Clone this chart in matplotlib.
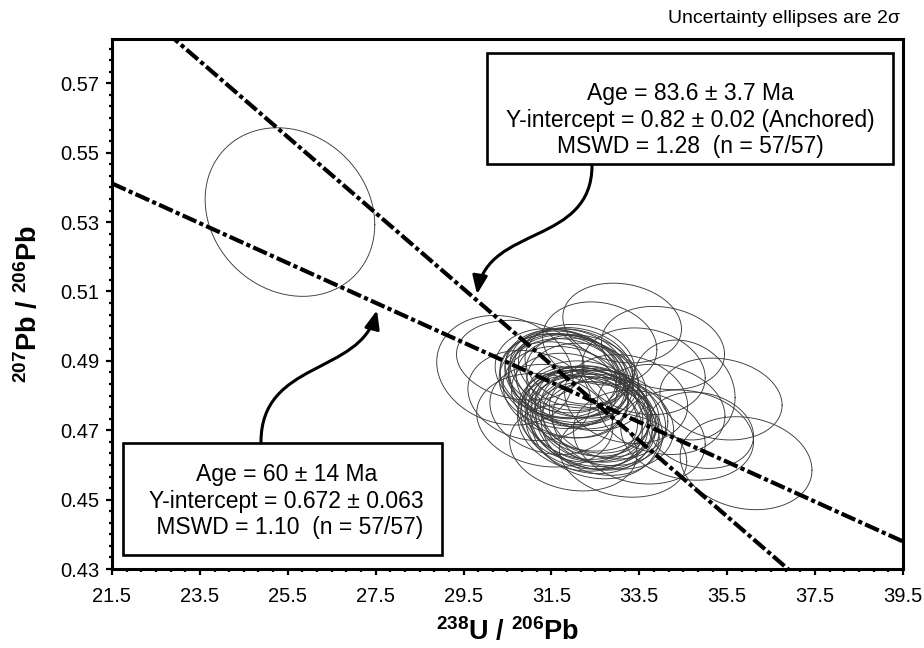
import numpy as np
import matplotlib
matplotlib.use('Agg')
from matplotlib import pyplot as plt
from matplotlib.path import Path
from matplotlib.patches import FancyArrowPatch, Rectangle
from matplotlib.ticker import AutoMinorLocator

plt.rcParams['font.family'] = ['Liberation Sans', 'DejaVu Sans']
plt.rcParams['mathtext.fontset'] = 'custom'
plt.rcParams['mathtext.rm'] = 'Liberation Sans'
plt.rcParams['mathtext.bf'] = 'Liberation Sans:bold'

# axis ticks
x_ticks = [21.5, 23.5, 25.5, 27.5, 29.5, 31.5, 33.5, 35.5, 37.5, 39.5]
y_ticks = [0.43, 0.45, 0.47, 0.49, 0.51, 0.53, 0.55, 0.57]
x_lim = (21.5, 39.5)
y_lim = (0.43, 0.5828)

# 2-sigma ellipses: centre (x, y) and half widths (sx, sy)
ell_x = [25.55,
         33.11, 34.04, 35.36, 35.93, 34.59, 34.52, 30.44, 30.79, 31.35, 33.13,
         33.60, 34.00, 33.50, 31.00, 32.60, 34.90, 32.00, 33.20, 31.50,
         31.80, 31.90, 31.75, 31.95, 31.85, 31.70, 32.00, 31.88, 32.10, 31.65,
         32.20, 31.82, 32.05, 31.60, 32.30, 31.92, 32.15, 31.78,
         32.38, 32.30, 32.45, 32.50, 32.25, 32.40, 32.55, 32.35, 32.60, 32.20,
         32.45, 32.70, 32.15, 32.65, 32.30, 32.80, 32.50, 32.10, 32.90]
ell_y = [0.5329,
         0.5009, 0.4937, 0.4790, 0.4605, 0.4686, 0.4816, 0.4873, 0.4902, 0.4729, 0.4628,
         0.4870, 0.4760, 0.4680, 0.4800, 0.4950, 0.4700, 0.4650, 0.4790, 0.4760,
         0.4860, 0.4850, 0.4870, 0.4845, 0.4840, 0.4855, 0.4865, 0.4875, 0.4835, 0.4830,
         0.4855, 0.4810, 0.4880, 0.4865, 0.4825, 0.4800, 0.4890, 0.4845,
         0.4735, 0.4745, 0.4725, 0.4740, 0.4730, 0.4755, 0.4720, 0.4715, 0.4750, 0.4750,
         0.4760, 0.4730, 0.4720, 0.4705, 0.4770, 0.4745, 0.4700, 0.4740, 0.4720]
ell_sx = [1.93,
          1.35, 1.40, 1.39, 1.50, 1.51, 1.16, 1.55, 1.45, 1.55, 1.45,
          1.40, 1.45, 1.50, 1.40, 1.30, 1.20, 1.45, 1.40, 1.40,
          1.36, 1.38, 1.30, 1.40, 1.33, 1.37, 1.35, 1.32, 1.40, 1.34,
          1.28, 1.42, 1.30, 1.38, 1.36, 1.33, 1.25, 1.45,
          1.43, 1.40, 1.42, 1.38, 1.45, 1.36, 1.40, 1.44, 1.35, 1.38,
          1.32, 1.40, 1.42, 1.38, 1.40, 1.35, 1.45, 1.36, 1.38]
ell_sy = [0.0243,
          0.0115, 0.0120, 0.0118, 0.0134, 0.0130, 0.0144, 0.0158, 0.0115, 0.0135, 0.0121,
          0.0125, 0.0130, 0.0135, 0.0130, 0.0120, 0.0110, 0.0125, 0.0128, 0.0130,
          0.0126, 0.0128, 0.0120, 0.0130, 0.0124, 0.0122, 0.0127, 0.0118, 0.0131, 0.0125,
          0.0120, 0.0132, 0.0116, 0.0128, 0.0126, 0.0122, 0.0115, 0.0134,
          0.0140, 0.0136, 0.0138, 0.0132, 0.0142, 0.0130, 0.0135, 0.0140, 0.0128, 0.0134,
          0.0126, 0.0132, 0.0138, 0.0135, 0.0130, 0.0128, 0.0140, 0.0132, 0.0132]
ell_rho = -0.15

# regression lines (y-intercept, slope)
anchored_line = (0.8335, -0.01094)
free_line = (0.6644, -0.005733)

box_anchored = ['Age = 83.6 \u00b1 3.7 Ma',
                'Y-intercept = 0.82 \u00b1 0.02 (Anchored)',
                'MSWD = 1.28  (n = 57/57)']
box_free = ['Age = 60 \u00b1 14 Ma',
            'Y-intercept = 0.672 \u00b1 0.063',
            ' MSWD = 1.10  (n = 57/57)']


def ellipse_xy(cx, cy, sx, sy, rho):
    t = np.linspace(0, 2 * np.pi, 240)
    return cx + sx * np.cos(t), cy + sy * (rho * np.cos(t) + np.sqrt(1 - rho ** 2) * np.sin(t))


def curved_arrow(ax, p0, p1, p2, p3):
    path = Path([p0, p1, p2, p3], [Path.MOVETO, Path.CURVE4, Path.CURVE4, Path.CURVE4])
    arr = FancyArrowPatch(path=path, arrowstyle='-|>,head_length=1.1,head_width=0.45',
                          mutation_scale=10, lw=2.2, color='black',
                          shrinkA=0, shrinkB=0, zorder=6)
    ax.add_patch(arr)


fig = plt.figure(figsize=(9.24, 6.48), dpi=100)
ax = fig.add_axes([0.1212, 0.1219, 0.856, 0.818])

for cx, cy, sx, sy in zip(ell_x, ell_y, ell_sx, ell_sy):
    ex, ey = ellipse_xy(cx, cy, sx, sy, ell_rho)
    ax.plot(ex, ey, color='#3a3a3a', lw=0.65, zorder=2)

xs = np.array(x_lim)
for b0, m in (anchored_line, free_line):
    ax.plot(xs, b0 + m * xs, color='black', lw=3.0, dashes=(3.6, 0.8, 1.0, 0.8),
            solid_capstyle='butt', zorder=4)

ax.set_xlim(*x_lim)
ax.set_ylim(*y_lim)
ax.set_xticks(x_ticks)
ax.set_xticklabels([f'{v:.1f}' for v in x_ticks])
ax.set_yticks(y_ticks)
ax.set_yticklabels([f'{v:.2f}' for v in y_ticks])
ax.xaxis.set_minor_locator(AutoMinorLocator(6))
ax.yaxis.set_minor_locator(AutoMinorLocator(6))
ax.tick_params(which='major', direction='out', length=4, width=1.6, labelsize=14.5, pad=5)
ax.tick_params(axis='x', which='major', pad=9)
ax.tick_params(which='minor', direction='out', length=2.5, width=1.6)
for sp in ax.spines.values():
    sp.set_linewidth(2.2)

# text boxes
ax.add_patch(Rectangle((0.474, 0.764), 0.513, 0.210, transform=ax.transAxes,
                       facecolor='white', edgecolor='black', lw=1.9, zorder=7))
ax.text(0.731, 0.847, '\n'.join(box_anchored), transform=ax.transAxes, ha='center',
        va='center', fontsize=16.5, linespacing=1.2, zorder=8)
ax.add_patch(Rectangle((0.0139, 0.0264), 0.403, 0.2113, transform=ax.transAxes,
                       facecolor='white', edgecolor='black', lw=1.9, zorder=7))
ax.text(0.221, 0.128, '\n'.join(box_free), transform=ax.transAxes, ha='center',
        va='center', fontsize=16.5, linespacing=1.2, zorder=8)

curved_arrow(ax, (32.424, 0.5464), (32.424, 0.5233), (30.057, 0.5291), (29.807, 0.5092))
curved_arrow(ax, (24.891, 0.4666), (24.891, 0.4902), (27.144, 0.4859), (27.531, 0.5046))

fig.text(0.549, 0.025, r'$\mathbf{^{238}}$U / $\mathbf{^{206}}$Pb', ha='center', va='center',
         fontsize=19.5, fontweight='bold')
fig.text(0.031, 0.531, r'$\mathbf{^{207}}$Pb / $\mathbf{^{206}}$Pb', ha='center', va='center',
         rotation=90, fontsize=19.5, fontweight='bold')
fig.text(0.974, 0.972, 'Uncertainty ellipses are 2\u03c3', ha='right', va='center', fontsize=14)

fig.savefig('out.png', dpi=100)
